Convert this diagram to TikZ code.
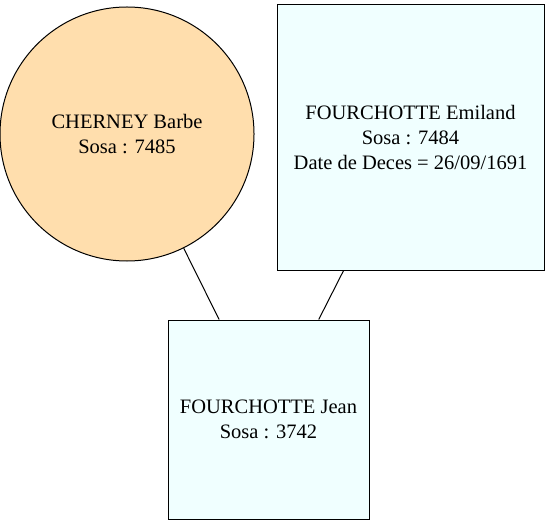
\documentclass[tikz,border=0pt]{standalone}
\usepackage{fontspec}
\setmainfont{Liberation Serif}
\definecolor{mother}{RGB}{255,222,173}
\definecolor{father}{RGB}{240,255,255}
\begin{document}
\begin{tikzpicture}[x=1bp,y=-1bp,line width=1bp,
  person/.style={draw=black,align=center,inner sep=0pt,font=\fontsize{20.5bp}{25bp}\selectfont},
  woman/.style={person,circle,fill=mother,minimum size=254bp},
  man/.style={person,rectangle,fill=father}]

\useasboundingbox (0,0) rectangle (549,525);

\node[woman] (barbe) at (127,134) {CHERNEY Barbe\\Sosa : 7485};
\node[man,minimum width=267bp,minimum height=265bp] (emiland) at (410.5,137.5) {FOURCHOTTE Emiland\\Sosa : 7484\\Date de Deces = 26/09/1691};
\node[man,minimum width=201bp,minimum height=199bp] (jean) at (268.5,419.5) {FOURCHOTTE Jean\\Sosa : 3742};

\draw[] (barbe) -- (jean);
\draw[] (emiland) -- (jean);

\end{tikzpicture}
\end{document}
